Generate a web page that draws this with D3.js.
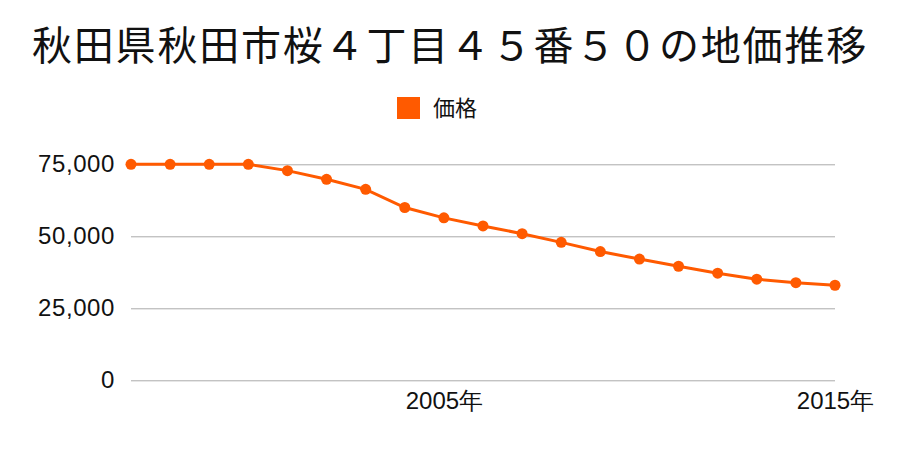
<!DOCTYPE html>
<html><head><meta charset="utf-8">
<script src="https://cdn.jsdelivr.net/npm/d3@7"></script>
<style>body{margin:0;background:#fff}svg{font-family:"Noto Sans CJK JP","Noto Sans",sans-serif}</style>
</head><body>
<svg id="c" width="900" height="450"></svg>
<script>
const title = "秋田県秋田市桜４丁目４５番５０の地価推移";
const seriesName = "価格";
const years = [1997,1998,1999,2000,2001,2002,2003,2004,2005,2006,2007,2008,2009,2010,2011,2012,2013,2014,2015];
const prices = [75000,75000,75000,75000,72800,69800,66300,60000,56400,53600,50900,47900,44700,42100,39600,37200,35100,33900,33000];
const yTicks = [0,25000,50000,75000];
const xTickYears = [2005,2015];

const svg = d3.select("#c");
const color = "#ff5a00";
const x = d3.scaleLinear().domain([1997,2015]).range([131,835]);
const y = d3.scaleLinear().domain([0,75000]).range([380.3,164.3]);

svg.append("text").attr("x",450).attr("y",60).attr("text-anchor","middle")
  .attr("font-size",40).attr("letter-spacing",1.8).attr("fill","#111").text(title);

svg.append("rect").attr("x",397).attr("y",97).attr("width",23).attr("height",22).attr("fill",color);
svg.append("text").attr("x",433).attr("y",116).attr("font-size",22).attr("fill","#111").text(seriesName);

const fmt = d3.format(",");
const yAxis = d3.axisLeft(y).tickValues(yTicks).tickSize(-(835-131)).tickFormat(fmt).tickPadding(16);
const gy = svg.append("g").attr("transform","translate(131,0)").call(yAxis);
gy.select(".domain").remove();
gy.selectAll(".tick line").attr("stroke","#aaa").attr("stroke-width",1);
gy.selectAll(".tick text").attr("font-size",24).attr("letter-spacing",0.6).attr("fill","#111").attr("font-family","inherit");

const xAxis = d3.axisBottom(x).tickValues(xTickYears).tickSize(0).tickPadding(12).tickFormat(d=>d+"年");
const gx = svg.append("g").attr("transform","translate(0,380.3)").call(xAxis);
gx.select(".domain").remove();
gx.selectAll(".tick text").attr("font-size",24).attr("fill","#111").attr("font-family","inherit");

const data = years.map((yr,i)=>({yr, v:prices[i]}));
svg.append("path").datum(data)
  .attr("fill","none").attr("stroke",color).attr("stroke-width",3)
  .attr("d", d3.line().x(d=>x(d.yr)).y(d=>y(d.v)));
svg.selectAll("circle.pt").data(data).join("circle").attr("class","pt")
  .attr("cx",d=>x(d.yr)).attr("cy",d=>y(d.v)).attr("r",5.5).attr("fill",color);
</script>
</body></html>
